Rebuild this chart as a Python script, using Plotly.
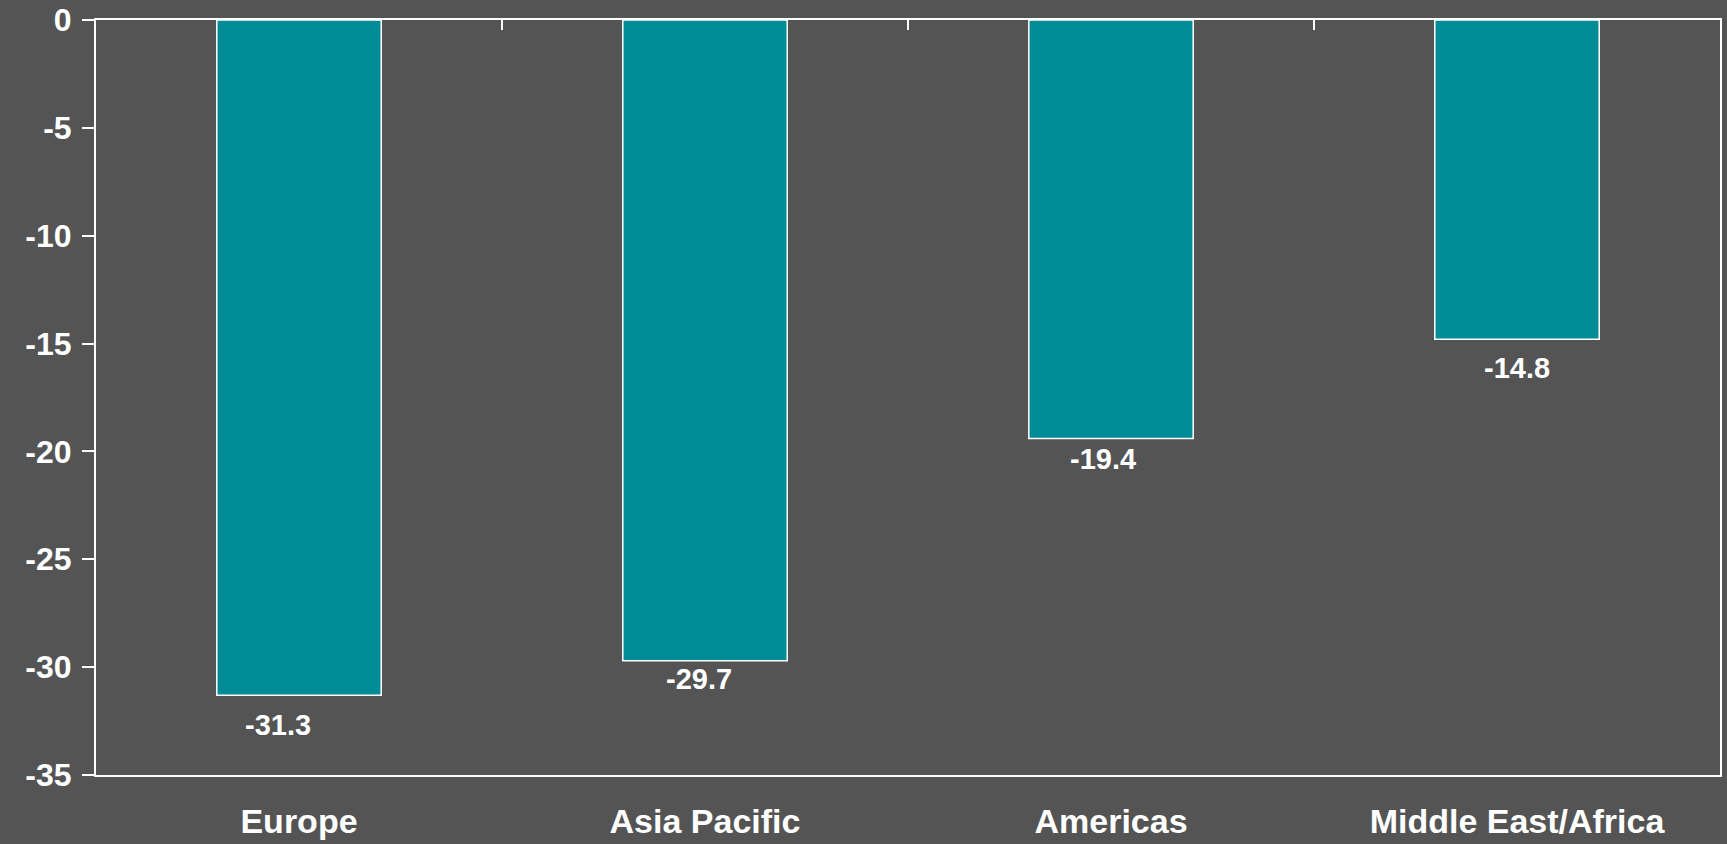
import plotly.graph_objects as go

# Data
regions = ["Europe", "Asia Pacific", "Americas", "Middle East/Africa"]
change = [-31.3, -29.7, -19.4, -14.8]
y_ticks = [0, -5, -10, -15, -20, -25, -30, -35]

# Styling
BG = "#545454"
BAR = "#008C96"
WHITE = "#FFFFFF"
FONT = "Liberation Sans, Arial, sans-serif"

# label offsets (pixels) relative to bar end, as in the original layout
label_dx = [-21, -6, -8, 0]
label_dy = [-30, -18, -21, -29]

fig = go.Figure()
fig.add_trace(go.Bar(
    x=regions, y=change,
    marker=dict(color=BAR, line=dict(color=WHITE, width=1.5)),
    width=0.405,
    hoverinfo="x+y",
))

# invisible companion trace that activates the top axis (boundary ticks)
fig.add_trace(go.Bar(
    x=regions, y=change, xaxis="x2", yaxis="y",
    marker=dict(color="rgba(0,0,0,0)", line=dict(width=0)),
    width=0.405, hoverinfo="skip", showlegend=False,
))

for r, v, dx, dy in zip(regions, change, label_dx, label_dy):
    fig.add_annotation(
        x=r, y=v, text=f"{v:.1f}", showarrow=False,
        xanchor="center", yanchor="middle", xshift=dx, yshift=dy,
        font=dict(family=FONT, size=29, color=WHITE, weight="bold"),
    )

fig.update_layout(
    width=1727, height=844,
    paper_bgcolor=BG, plot_bgcolor=BG,
    margin=dict(l=96, r=7, t=20, b=69, autoexpand=False),
    showlegend=False, barmode="overlay",
    font=dict(family=FONT, color=WHITE),
    xaxis=dict(
        type="category", categoryarray=regions, automargin=False,
        showline=True, linecolor=WHITE, linewidth=2, mirror=True,
        ticks="", showgrid=False, zeroline=False,
        tickfont=dict(family=FONT, size=34, color=WHITE, weight="bold"),
        ticklabelstandoff=15,
    ),
    xaxis2=dict(
        overlaying="x", side="top", matches="x", automargin=False,
        type="category", categoryarray=regions,
        ticks="inside", tickson="boundaries", ticklen=10, tickwidth=2,
        tickcolor=WHITE, showticklabels=False, showgrid=False,
        showline=False, zeroline=False,
    ),
    yaxis=dict(
        range=[-35, 0], tickvals=y_ticks, ticktext=[str(t) for t in y_ticks],
        automargin=False,
        showline=True, linecolor=WHITE, linewidth=2, mirror=True,
        ticks="outside", ticklen=12, tickwidth=2, tickcolor=WHITE,
        showgrid=False, zeroline=False,
        tickfont=dict(family=FONT, size=32, color=WHITE, weight="bold"),
        ticklabelstandoff=4,
    ),
)

fig.write_html(
    "out.html",
    config={"displayModeBar": False},
    post_script="document.body.style.margin='0px';document.body.style.background='#545454';document.body.style.overflow='hidden';",
)
